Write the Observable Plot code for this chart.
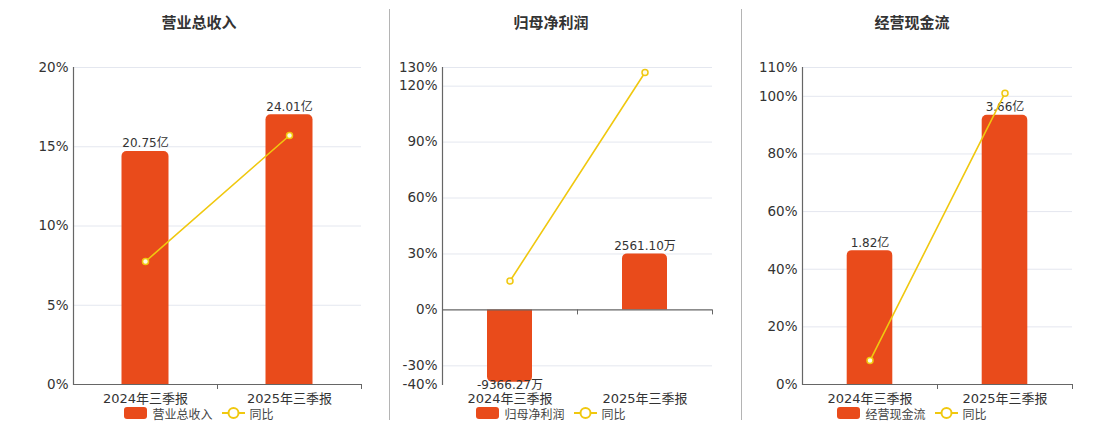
<!DOCTYPE html>
<html><head><meta charset="utf-8">
<script src="https://cdn.jsdelivr.net/npm/d3@7"></script>
<script src="https://cdn.jsdelivr.net/npm/@observablehq/plot@0.6"></script>
<style>
body{margin:0;background:#fff;width:1101px;height:427px;overflow:hidden;position:relative;font-family:"DejaVu Sans","Noto Sans CJK SC",sans-serif;}
.abs{position:absolute;}
.title{font-family:"Noto Sans CJK SC",sans-serif;font-size:15px;font-weight:bold;color:#333;text-align:center;width:300px;top:11px;line-height:22px;}
.legend{display:flex;justify-content:center;align-items:center;width:300px;top:405px;height:16px;font-size:12px;color:#444;font-family:"Noto Sans CJK SC",sans-serif;}
.sep{width:1px;background:#b4b4b4;top:9px;height:411px;}
.panel svg{position:absolute;top:0;left:0;}
</style></head><body>
<script>
const categories = ["2024年三季报", "2025年三季报"];

const revenueName = "营业总收入";
const revenueValues = [20.75, 24.01];
const revenueLabels = ["20.75亿", "24.01亿"];
const revenueYoy = [7.76, 15.71];
const revenueTicks = [0, 5, 10, 15, 20];

const profitName = "归母净利润";
const profitValues = [-9366.27, 2561.10];
const profitLabels = ["-9366.27万", "2561.10万"];
const profitYoy = [15.5, 127.34];
const profitTicks = [-40, -30, 0, 30, 60, 90, 120, 130];

const cashName = "经营现金流";
const cashValues = [1.82, 3.66];
const cashLabels = ["1.82亿", "3.66亿"];
const cashYoy = [8.3, 101.1];
const cashTicks = [0, 20, 40, 60, 80, 100, 110];

const BAR = "#e94b1b";
const YEL = "#f0c80f";
const FONT = "DejaVu Sans, Noto Sans CJK SC, sans-serif";

function panel(cfg) {
  const H = 412, MT = 67, MB = 28;
  const {left, width, ml, mr, center, name, values, labels, yoy, ticks, barMax, barMin, inset} = cfg;
  const plotW = width - ml - mr;
  const yDom = [d3.min(ticks), d3.max(ticks)];
  const bottom = H - MB;
  const zeroY = MT + (yDom[1] - 0) / (yDom[1] - yDom[0]) * (bottom - MT);
  const up = zeroY - MT, down = bottom - zeroY;
  const common = {
    width, height: H, marginTop: MT, marginBottom: MB, marginLeft: ml, marginRight: mr,
    style: {background: "transparent", fontFamily: FONT, fontSize: "13px", color: "#333", overflow: "visible"}
  };
  const xs = {type: "band", domain: categories, padding: 0};

  const wrap = document.createElement("div");
  wrap.className = "abs panel";
  wrap.style.left = left + "px"; wrap.style.top = "0px";
  wrap.style.width = width + "px"; wrap.style.height = H + "px";

  // layer 1: grid and axis labels
  const p1 = Plot.plot({...common,
    x: {...xs}, y: {domain: yDom},
    marks: [
      Plot.gridY(ticks.filter(t => t !== 0 && t !== yDom[0]), {stroke: "#e4e7ef", strokeOpacity: 1}),
      Plot.axisY({ticks, tickFormat: d => d + "%", tickSize: 0, tickPadding: 5, label: null, fill: "#333", fontSize: 13.5}),
      Plot.axisX({anchor: "bottom", tickSize: 0, tickPadding: 9, label: null, fill: "#333", fontSize: 13})
    ]
  });
  wrap.append(p1);

  // layer 2: bars, each sign on its own hidden value axis sharing the zero line
  const bars = categories.map((c, i) => ({cat: c, value: values[i], label: labels[i]}));
  const pos = bars.filter(d => d.value >= 0), neg = bars.filter(d => d.value < 0);
  if (pos.length) {
    const dom = down > 0 ? [-barMax * down / up, barMax] : [0, barMax];
    wrap.append(Plot.plot({...common,
      x: {...xs, axis: null}, y: {domain: dom, axis: null},
      marks: [
        Plot.barY(pos, {x: "cat", y: "value", fill: BAR, insetLeft: inset, insetRight: inset, ry1: 5}),
        Plot.text(pos, {x: "cat", y: "value", text: "label", lineAnchor: "bottom", dy: -4, fontSize: 12, fill: "#333"})
      ]
    }));
  }
  if (neg.length) {
    const dom = [barMin, -barMin * up / down];
    wrap.append(Plot.plot({...common,
      x: {...xs, axis: null}, y: {domain: dom, axis: null},
      marks: [
        Plot.barY(neg, {x: "cat", y: "value", fill: BAR, insetLeft: inset, insetRight: inset, ry2: 5}),
        Plot.text(neg, {x: "cat", y: "value", text: "label", lineAnchor: "top", dy: -2, fontSize: 12, fill: "#333"})
      ]
    }));
  }

  // layer 3: axis lines and yoy line
  const line = categories.map((c, i) => ({cat: c, yoy: yoy[i]}));
  const p3 = Plot.plot({...common,
    x: {...xs, axis: null}, y: {domain: yDom, axis: null},
    marks: [
      Plot.frame({anchor: "left", stroke: "#666", strokeWidth: 1.2}),
      Plot.ruleY([0], {stroke: "#666", strokeWidth: 1.2}),
      Plot.tickX(categories, {x: d => d, dx: plotW / 4, stroke: "#666", insetTop: up, insetBottom: down - 5}),
      Plot.line(line, {x: "cat", y: "yoy", stroke: YEL, strokeWidth: 1.6}),
      Plot.dot(line, {x: "cat", y: "yoy", r: 3, fill: "#fffbe6", stroke: YEL, strokeWidth: 1.5})
    ]
  });
  wrap.append(p3);
  document.body.append(wrap);

  const t = document.createElement("div");
  t.className = "abs title";
  t.style.left = (center - 150) + "px";
  t.textContent = name;
  document.body.append(t);

  const lg = document.createElement("div");
  lg.className = "abs legend";
  lg.style.left = (center - 150) + "px";
  lg.innerHTML =
    `<span style="display:inline-block;width:23px;height:12px;border-radius:3px;background:${BAR};margin-right:5px"></span>` +
    `<span style="margin-right:9px">${name}</span>` +
    `<svg width="23" height="14" style="margin-right:5px;position:static"><line x1="0" x2="23" y1="7" y2="7" stroke="${YEL}" stroke-width="2"/><circle cx="11.5" cy="7" r="5" fill="#fff" stroke="${YEL}" stroke-width="2"/></svg>` +
    `<span>同比</span>`;
  document.body.append(lg);
}

panel({left: 0, width: 380, ml: 73, mr: 19, center: 199, name: revenueName, values: revenueValues, labels: revenueLabels, yoy: revenueYoy, ticks: revenueTicks, barMax: 28.22, barMin: 0, inset: 48.5});
panel({left: 380, width: 360, ml: 62, mr: 28, center: 551, name: profitName, values: profitValues, labels: profitLabels, yoy: profitYoy, ticks: profitTicks, barMax: 11086, barMin: -9651, inset: 45});
panel({left: 740, width: 361, ml: 62, mr: 29, center: 912, name: cashName, values: cashValues, labels: cashLabels, yoy: cashYoy, ticks: cashTicks, barMax: 4.31, barMin: 0, inset: 44.7});

for (const x of [389, 741]) {
  const s = document.createElement("div");
  s.className = "abs sep";
  s.style.left = x + "px";
  document.body.append(s);
}
</script>
</body></html>
